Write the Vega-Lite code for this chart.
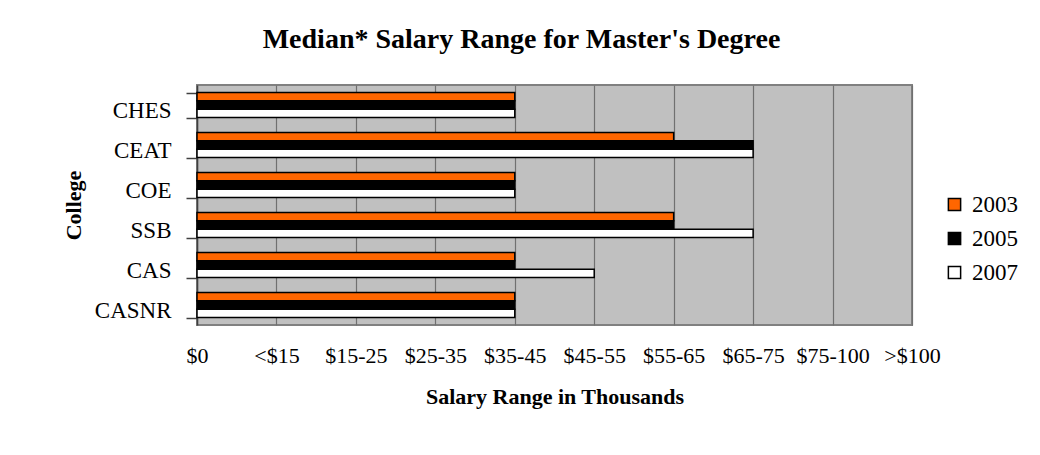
{
  "$schema": "https://vega.github.io/schema/vega-lite/v6.json",
  "width": 715,
  "height": 240,
  "autosize": {"type": "none"},
  "padding": {"left": 197, "top": 85, "right": 128, "bottom": 130},
  "background": "white",
  "title": {
    "text": "Median* Salary Range for Master's Degree",
    "font": "Liberation Serif",
    "fontSize": 28,
    "fontWeight": "bold",
    "color": "black",
    "anchor": "middle",
    "dx": -33,
    "offset": 20
  },
  "data": {
    "values": [
      {"college": "CHES", "year": "2003", "value": 4},
      {"college": "CHES", "year": "2005", "value": 4},
      {"college": "CHES", "year": "2007", "value": 4},
      {"college": "CEAT", "year": "2003", "value": 6},
      {"college": "CEAT", "year": "2005", "value": 7},
      {"college": "CEAT", "year": "2007", "value": 7},
      {"college": "COE", "year": "2003", "value": 4},
      {"college": "COE", "year": "2005", "value": 4},
      {"college": "COE", "year": "2007", "value": 4},
      {"college": "SSB", "year": "2003", "value": 6},
      {"college": "SSB", "year": "2005", "value": 6},
      {"college": "SSB", "year": "2007", "value": 7},
      {"college": "CAS", "year": "2003", "value": 4},
      {"college": "CAS", "year": "2005", "value": 4},
      {"college": "CAS", "year": "2007", "value": 5},
      {"college": "CASNR", "year": "2003", "value": 4},
      {"college": "CASNR", "year": "2005", "value": 4},
      {"college": "CASNR", "year": "2007", "value": 4}
    ]
  },
  "mark": {"type": "bar", "stroke": "black", "strokeWidth": 1.5},
  "encoding": {
    "y": {
      "field": "college",
      "type": "nominal",
      "sort": ["CHES", "CEAT", "COE", "SSB", "CAS", "CASNR"],
      "scale": {"paddingInner": 0.375, "paddingOuter": 0.1875},
      "axis": {
        "title": "College",
        "titleFont": "Liberation Serif",
        "titleFontSize": 22,
        "titleFontWeight": "bold",
        "titleColor": "black",
        "titlePadding": 9,
        "labelFont": "Liberation Serif",
        "labelFontSize": 23,
        "labelColor": "black",
        "labelPadding": 15,
        "labelOffset": 5,
        "tickBand": "extent",
        "tickSize": 11,
        "tickColor": "#404040",
        "tickWidth": 1.5,
        "domainColor": "#404040",
        "domainWidth": 1.5
      }
    },
    "yOffset": {
      "field": "year",
      "type": "nominal",
      "sort": ["2003", "2005", "2007"],
      "scale": {"paddingInner": 0, "paddingOuter": 0}
    },
    "x": {
      "field": "value",
      "type": "quantitative",
      "scale": {"domain": [0, 9], "nice": false, "zero": true},
      "axis": {
        "values": [0, 1, 2, 3, 4, 5, 6, 7, 8, 9],
        "labelExpr": "['$0','<$15','$15-25','$25-35','$35-45','$45-55','$55-65','$65-75','$75-100','>$100'][datum.value]",
        "title": "Salary Range in Thousands",
        "titleFont": "Liberation Serif",
        "titleFontSize": 22,
        "titleFontWeight": "bold",
        "titleColor": "black",
        "titlePadding": 20,
        "titleAnchor": "middle",
        "labelFont": "Liberation Serif",
        "labelFontSize": 22,
        "labelColor": "black",
        "labelPadding": 20,
        "labelFlush": false,
        "labelOverlap": false,
        "ticks": false,
        "domain": false,
        "grid": true,
        "gridColor": "#707070",
        "gridWidth": 1.2,
        "gridOpacity": 1
      }
    },
    "color": {
      "field": "year",
      "type": "nominal",
      "sort": ["2003", "2005", "2007"],
      "scale": {"range": ["#FF6600", "#000000", "#FFFFFF"]},
      "legend": {
        "title": null,
        "orient": "none",
        "legendX": 746,
        "legendY": 108,
        "symbolType": "square",
        "symbolSize": 150,
        "symbolStrokeColor": "black",
        "symbolStrokeWidth": 1.5,
        "symbolOpacity": 1,
        "labelFont": "Liberation Serif",
        "labelFontSize": 23,
        "labelColor": "black",
        "labelOffset": 6,
        "rowPadding": 10
      }
    }
  },
  "config": {
    "view": {"fill": "#C0C0C0", "stroke": "#808080", "strokeWidth": 2}
  }
}
